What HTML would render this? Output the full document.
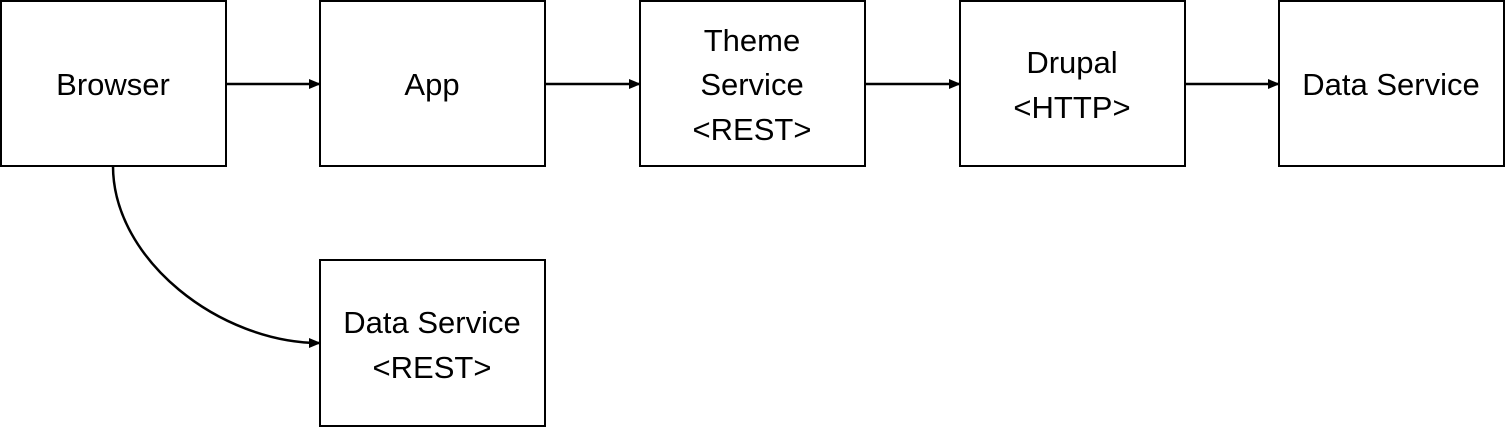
<!DOCTYPE html>
<html><head><style>
body{margin:0;background:#fff;width:1509px;height:428px;overflow:hidden}
svg{display:block}
text{font-family:"Liberation Sans",sans-serif;font-size:31px;fill:#000;text-anchor:middle}
rect{fill:#fff;stroke:#000;stroke-width:2}
</style></head><body>
<svg width="1509" height="428" viewBox="0 0 1509 428">
<defs><marker id="a" markerWidth="12" markerHeight="10" refX="11" refY="5" orient="auto" markerUnits="userSpaceOnUse"><path d="M0,0 L12,5 L0,10 z" fill="#000"/></marker></defs>
<rect x="1" y="1" width="225" height="165"/>
<rect x="320" y="1" width="225" height="165"/>
<rect x="640" y="1" width="225" height="165"/>
<rect x="960" y="1" width="225" height="165"/>
<rect x="1279" y="1" width="225" height="165"/>
<rect x="320" y="260" width="225" height="166"/>
<g stroke="#000" stroke-width="2.5" fill="none">
<line x1="226" y1="84" x2="320" y2="84" marker-end="url(#a)"/>
<line x1="545" y1="84" x2="640" y2="84" marker-end="url(#a)"/>
<line x1="865" y1="84" x2="960" y2="84" marker-end="url(#a)"/>
<line x1="1185" y1="84" x2="1279" y2="84" marker-end="url(#a)"/>
<path d="M113,166 C113,260 220,343 320,343" marker-end="url(#a)"/>
</g>
<text x="113" y="95">Browser</text>
<text x="432" y="95">App</text>
<text x="752" y="51">Theme</text>
<text x="752" y="95">Service</text>
<text x="752" y="140">&lt;REST&gt;</text>
<text x="1072" y="73">Drupal</text>
<text x="1072" y="118">&lt;HTTP&gt;</text>
<text x="1391" y="95">Data Service</text>
<text x="432" y="333">Data Service</text>
<text x="432" y="378">&lt;REST&gt;</text>
</svg>
</body></html>
